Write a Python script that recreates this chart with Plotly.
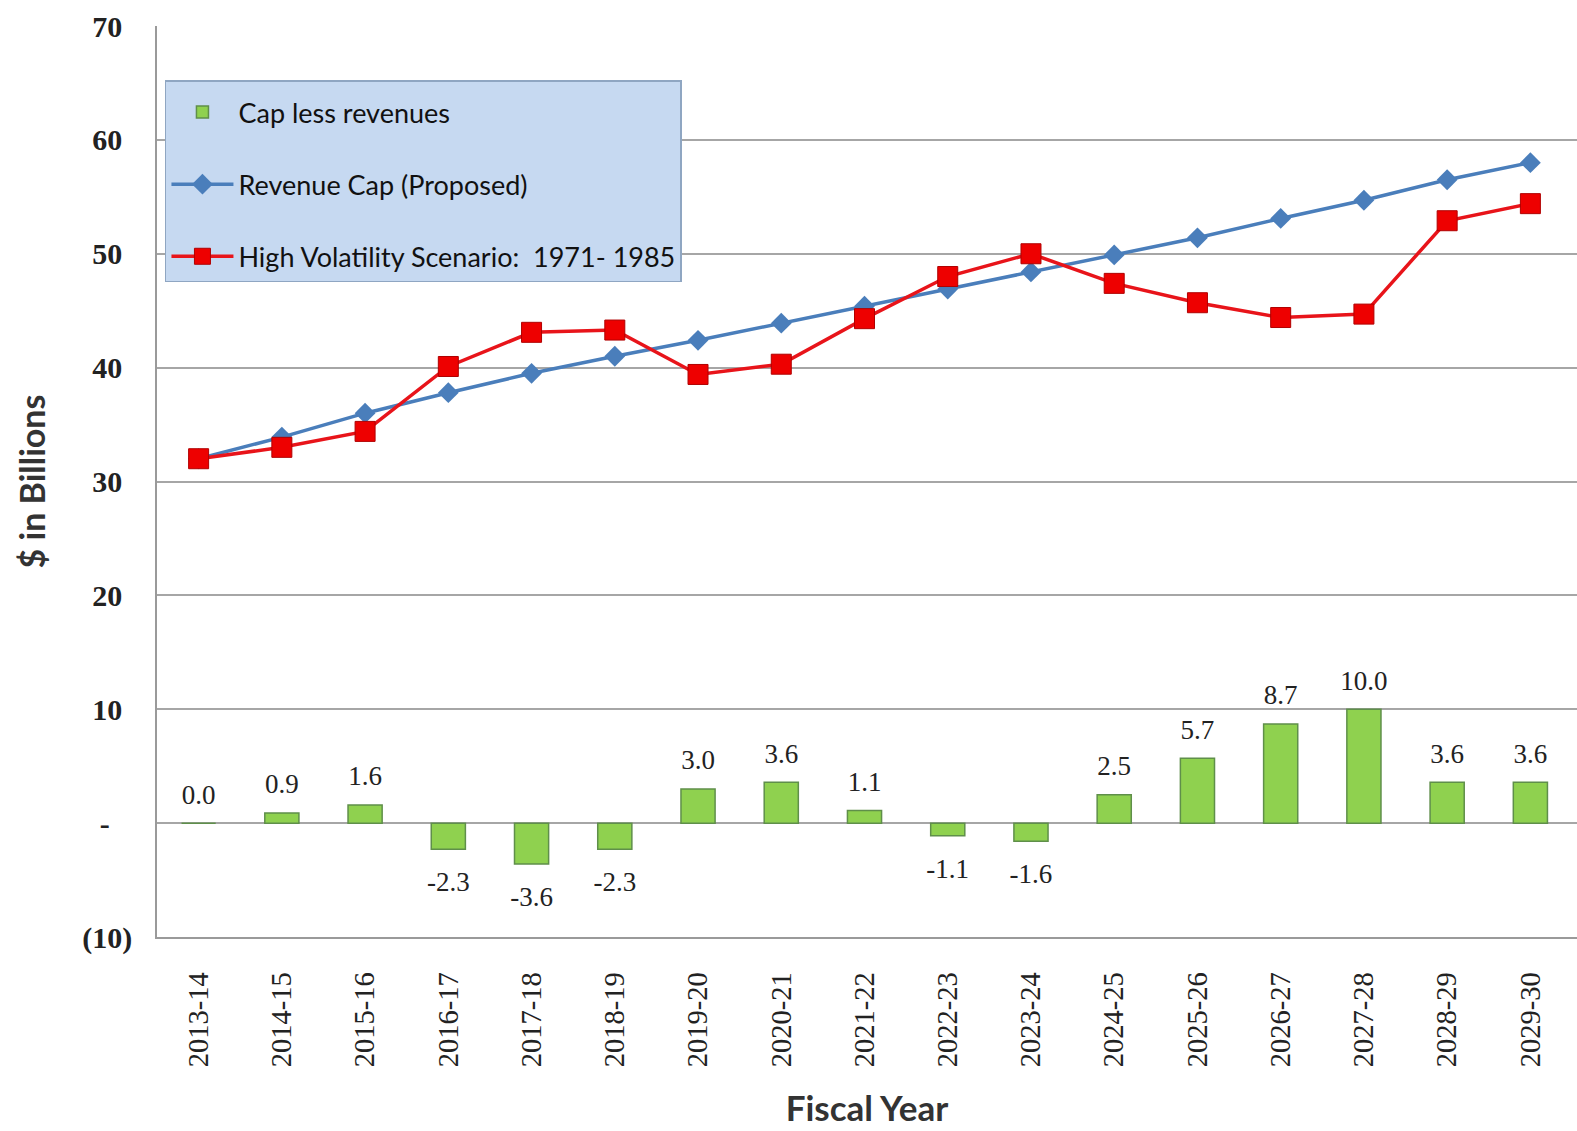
import plotly.graph_objects as go

years = ["2013-14", "2014-15", "2015-16", "2016-17", "2017-18", "2018-19", "2019-20",
         "2020-21", "2021-22", "2022-23", "2023-24", "2024-25", "2025-26", "2026-27",
         "2027-28", "2028-29", "2029-30"]
revenue_cap = [32.0, 33.9, 36.0, 37.8, 39.5, 41.0, 42.4, 43.9, 45.4, 46.9, 48.4, 49.9,
               51.4, 53.1, 54.7, 56.5, 58.0]
high_vol = [32.0, 33.0, 34.4, 40.1, 43.1, 43.3, 39.4, 40.3, 44.3, 48.0, 50.0, 47.4,
            45.7, 44.4, 44.7, 52.9, 54.4]
cap_less = [0.0, 0.9, 1.6, -2.3, -3.6, -2.3, 3.0, 3.6, 1.1, -1.1, -1.6, 2.5, 5.7, 8.7,
            10.0, 3.6, 3.6]
y_tickvals = [-10, 0, 10, 20, 30, 40, 50, 60, 70]
y_ticktext = ["(10)", "-", "10", "20", "30", "40", "50", "60", "70"]

SERIF = "Liberation Serif"
SANS = "Lato"


def pad_tick(t):
    # accounting-style alignment: positives leave room for ")", dash is inset
    if t.startswith("("):
        return t
    if t == "-":
        return t + "\u2002\u2005"
    return t + "\u2004"


pos_x = [x for x, v in zip(years, cap_less) if v >= 0]
pos_v = [v for v in cap_less if v >= 0]
neg_x = [x for x, v in zip(years, cap_less) if v < 0]
neg_v = [v for v in cap_less if v < 0]

fig = go.Figure()
fig.add_trace(go.Bar(
    x=years, y=cap_less, name="Cap less revenues", width=0.41,
    marker=dict(color="#8fd14f", line=dict(color="#5f8f4a", width=1.5)),
    legendgroup="a", hoverinfo="y"))
fig.add_trace(go.Scatter(
    x=pos_x, y=pos_v, mode="markers+text", showlegend=False,
    text=[f"{v:.1f}" for v in pos_v], textposition="top center",
    marker=dict(size=19, color="rgba(0,0,0,0)"),
    textfont=dict(family=SERIF, size=27, color="#222222"), hoverinfo="skip"))
fig.add_trace(go.Scatter(
    x=neg_x, y=neg_v, mode="markers+text", showlegend=False,
    text=[f"{v:.1f}" for v in neg_v], textposition="bottom center",
    marker=dict(size=33, color="rgba(0,0,0,0)"),
    textfont=dict(family=SERIF, size=27, color="#222222"), hoverinfo="skip"))
fig.add_trace(go.Scatter(
    x=years, y=revenue_cap, mode="lines+markers", name="Revenue Cap (Proposed)",
    line=dict(color="#4a7ebb", width=3.5),
    marker=dict(symbol="diamond", size=16, color="#4a7ebb"), legendgroup="b"))
fig.add_trace(go.Scatter(
    x=years, y=high_vol, mode="lines+markers", name="High Volatility Scenario:  1971- 1985",
    line=dict(color="#e8141a", width=3.5),
    marker=dict(symbol="square", size=20, color="#ee0000",
                line=dict(color="#b00000", width=1)), legendgroup="c"))

fig.update_layout(
    width=1577, height=1131,
    margin=dict(l=157, r=0, t=26, b=194),
    plot_bgcolor="white", paper_bgcolor="white",
    showlegend=True,
    legend=dict(
        x=0.0056, y=0.9407, xanchor="left", yanchor="top",
        bgcolor="#c6d9f1", bordercolor="#8fa6c2", borderwidth=1.5,
        font=dict(family=SANS, size=27, color="#111111"),
        title=dict(text=" ", font=dict(size=5)),
        traceorder="grouped", tracegroupgap=34, itemwidth=62),
    xaxis=dict(
        range=[-0.5, 16.56], showgrid=False, showline=True, linecolor="#9a9a9a",
        linewidth=1.5, tickangle=-90, ticks="outside", ticklen=22,
        tickcolor="rgba(0,0,0,0)",
        tickfont=dict(family=SERIF, size=28.5, color="#222222"),
        title=dict(text="Fiscal Year",
                   font=dict(family=SANS, size=35, color="#333333", weight="bold"),
                   standoff=30)),
    yaxis=dict(
        range=[-10, 70], tickvals=y_tickvals, ticktext=[pad_tick(t) for t in y_ticktext],
        showgrid=True, gridcolor="#a6a6a6", gridwidth=1.5, zeroline=False,
        showline=True, linecolor="#9a9a9a", linewidth=1.5,
        ticks="outside", ticklen=17, tickcolor="rgba(0,0,0,0)",
        tickfont=dict(family=SERIF, size=30, color="#222222", weight="bold"),
        title=dict(text="$ in Billions",
                   font=dict(family=SANS, size=34, color="#333333", weight="bold"),
                   standoff=26)),
)

fig.write_html("out.html")
